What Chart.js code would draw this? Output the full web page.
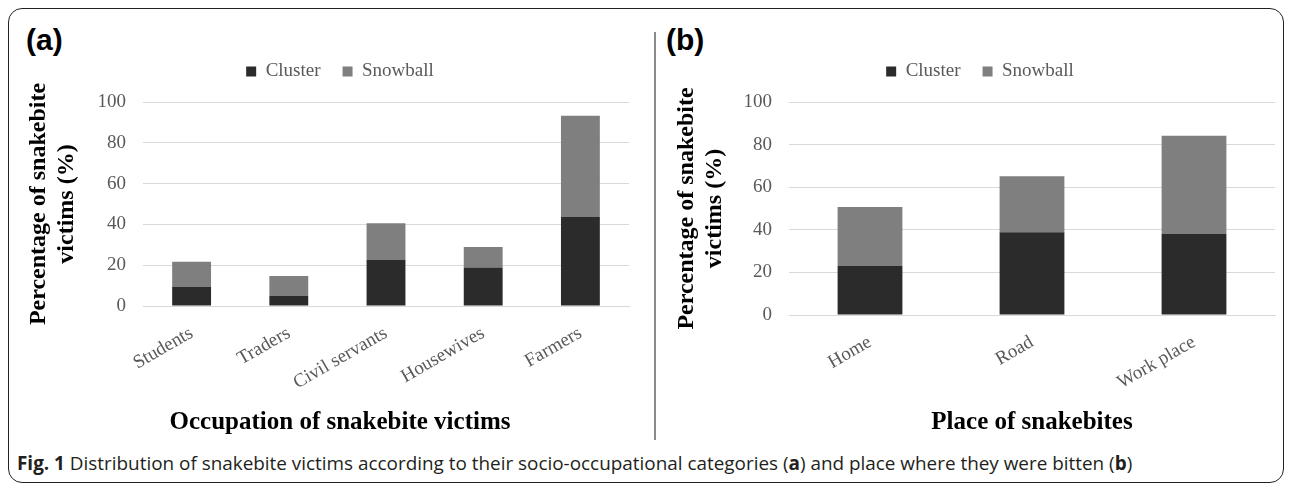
<!DOCTYPE html>
<html>
<head>
<meta charset="utf-8">
<script src="https://cdn.jsdelivr.net/npm/chart.js@4.4.1/dist/chart.umd.min.js"></script>
<style>
  html, body { margin: 0; padding: 0; background: #fff; overflow: hidden; }
  body { width: 1292px; height: 485px; position: relative; }
  .frame { position: absolute; left: 8px; top: 8px; width: 1274px; height: 473px;
           border: 1.5px solid #222; border-radius: 14px; }
  .divider { position: absolute; left: 654px; top: 32px; width: 1.5px; height: 408px; background: #8a8a8a; }
  .panel { position: absolute; font: bold 30px "Liberation Sans", Arial, sans-serif; line-height: 30px; }
  .caption { position: absolute; left: 17px; top: 452px; font: 18.9px "Open Sans", sans-serif;
             line-height: 22px; color: #231f20; white-space: nowrap; }
  canvas { position: absolute; }
</style>
</head>
<body>
<div class="frame"></div>
<div class="divider"></div>
<div class="panel" style="left:26px; top:25px;">(a)</div>
<div class="panel" style="left:666px; top:25px;">(b)</div>
<canvas id="occChart" width="656" height="402" style="left:12px; top:40px;"></canvas>
<canvas id="placeChart" width="640" height="402" style="left:660px; top:40px;"></canvas>
<div class="caption"><b>Fig. 1</b> Distribution of snakebite victims according to their socio-occupational categories (<b>a</b>) and place where they were bitten (<b>b</b>)</div>

<script>
// values (percent)
const seriesNames = ['Cluster', 'Snowball'];
const seriesColors = ['#2b2b2b', '#7f7f7f'];

const occupations = ['Students', 'Traders', 'Civil servants', 'Housewives', 'Farmers'];
const occCluster = [9.3, 4.9, 22.5, 18.9, 43.6];
const occSnowball = [12.4, 9.8, 18.1, 10.0, 49.6];

const places = ['Home', 'Road', 'Work place'];
const placeCluster = [23.0, 38.9, 38.0];
const placeSnowball = [27.7, 26.2, 46.1];

const yTitle = ['Percentage of snakebite', 'victims (%)'];
const yMax = 100;
const yStep = 20;

const serif = '"Liberation Serif", "Times New Roman", serif';

// push the plot down a bit below the legend
const legendGap = {
  id: 'legendGap',
  beforeInit(chart) {
    const fit = chart.legend.fit;
    chart.legend.fit = function () {
      fit.call(this);
      this.height += 11;
    };
  }
};

function makeChart(id, labels, cluster, snowball, o) {
  const ctx = document.getElementById(id).getContext('2d');
  return new Chart(ctx, {
    type: 'bar',
    data: {
      labels: labels,
      datasets: [
        { label: seriesNames[0], data: cluster, backgroundColor: seriesColors[0] },
        { label: seriesNames[1], data: snowball, backgroundColor: seriesColors[1] }
      ]
    },
    options: {
      responsive: false,
      animation: false,
      datasets: { bar: { barPercentage: 0.4, categoryPercentage: 1 } },
      layout: { padding: { left: 0, right: 0, top: 0, bottom: 4 } },
      plugins: {
        tooltip: { enabled: false },
        legend: {
          position: 'top',
          labels: {
            boxWidth: 10, boxHeight: 10, padding: 22,
            color: '#595959', font: { family: serif, size: 19 }
          }
        },
        title: {
          display: o.bottomTitle != null,
          text: o.bottomTitle || '',
          position: 'bottom',
          color: '#000',
          padding: 0,
          font: { family: serif, size: 25, weight: 'bold', lineHeight: 1.2 }
        }
      },
      scales: {
        x: {
          stacked: true,
          afterFit(scale) { scale.height = o.xHeight; },
          grid: { display: false, drawTicks: false },
          border: { display: true, color: '#d9d9d9' },
          ticks: {
            minRotation: 30, maxRotation: 30, padding: 16,
            color: '#595959', font: { family: serif, size: 19 }
          },
          title: {
            display: o.xTitle != null,
            text: o.xTitle || '',
            color: '#000',
            padding: { top: 0, bottom: 0 },
            font: { family: serif, size: 25, weight: 'bold', lineHeight: 1.2 }
          }
        },
        y: {
          stacked: true,
          min: 0, max: yMax,
          afterFit(scale) { scale.width = o.yWidth; },
          grid: { color: '#d9d9d9', drawTicks: false },
          border: { display: false },
          ticks: {
            stepSize: yStep, padding: 17,
            color: '#595959', font: { family: serif, size: 19 }
          },
          title: {
            display: true,
            text: yTitle,
            color: '#000',
            padding: { top: 12, bottom: 0 },
            font: { family: serif, size: 24, weight: 'bold', lineHeight: 1.2 }
          }
        },
        // empty strip on the right so the legend stays centred on the canvas
        yPad: {
          position: 'right',
          afterFit(scale) { scale.width = o.padRight; },
          grid: { display: false },
          border: { display: false },
          ticks: { display: false }
        }
      }
    },
    plugins: [legendGap]
  });
}

makeChart('occChart', occupations, occCluster, occSnowball, {
  padRight: 39, xHeight: 102, yWidth: 131,
  bottomTitle: 'Occupation of snakebite victims'
});

makeChart('placeChart', places, placeCluster, placeSnowball, {
  padRight: 25, xHeight: 123, yWidth: 129,
  xTitle: 'Place of snakebites'
});
</script>
</body>
</html>
